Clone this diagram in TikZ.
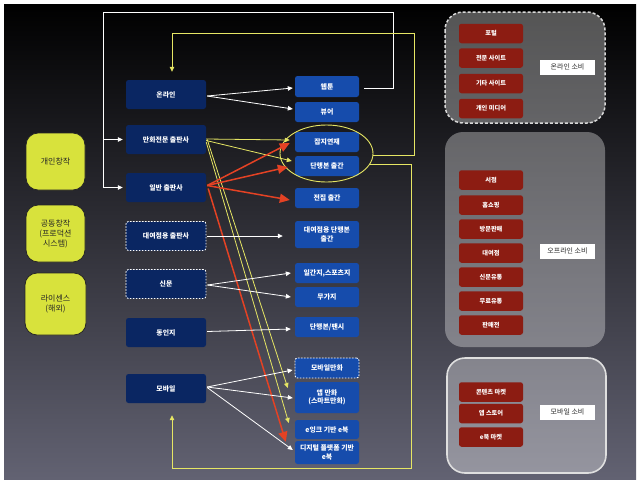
\documentclass[tikz,border=0pt]{standalone}
\usepackage{fontspec}
\newfontfamily\kr{Noto Sans CJK KR}
\usetikzlibrary{arrows.meta,calc,shapes.geometric}
\definecolor{navy}{RGB}{10,38,98}
\definecolor{bblue}{RGB}{22,76,172}
\definecolor{yfill}{RGB}{216,226,60}
\definecolor{yline}{RGB}{230,230,100}
\definecolor{rarrow}{RGB}{228,66,36}
\definecolor{rbox}{RGB}{140,28,18}
\definecolor{bgbot}{RGB}{98,98,114}
\definecolor{bgmid}{RGB}{30,30,60}
\begin{document}
\begin{tikzpicture}[x=1pt,y=-1pt,
  every node/.style={font=\kr\bfseries\fontsize{6.9}{8.3}\selectfont, text=white, align=center, inner sep=1pt},
  srcbox/.style={fill=navy, rounded corners=2.5pt, minimum width=80pt, minimum height=29pt},
  dashsrc/.style={srcbox, draw=white, line width=0.9pt, dash pattern=on 1.6pt off 1.4pt},
  outbox/.style={fill=bblue, rounded corners=2.5pt, minimum width=64pt, minimum height=20pt},
  dashout/.style={outbox, draw=white, line width=0.9pt, dash pattern=on 1.6pt off 1.4pt},
  creator/.style={fill=yfill, draw=black!85, line width=0.8pt, rounded corners=12pt, minimum width=59pt, minimum height=57pt, text=black!85, font=\kr\fontsize{8}{10}\selectfont},
  consbox/.style={fill=rbox, rounded corners=2.5pt, minimum width=64pt, minimum height=19.5pt, font=\kr\bfseries\fontsize{6.2}{7.5}\selectfont},
  grouplabel/.style={fill=white, text=black!85, minimum width=55pt, minimum height=15pt, font=\kr\fontsize{7}{9}\selectfont},
  groupbg/.style={fill=white, fill opacity=0.33, rounded corners=18pt},
  wa/.style={draw=white, line width=0.8pt, -{Triangle[length=5pt,width=4.5pt]}},
  ya/.style={draw=yline, line width=0.8pt, -{Triangle[length=5pt,width=4.5pt]}},
  ra/.style={draw=rarrow, line width=1.5pt, -{Triangle[length=10pt,width=9pt]}}]
\useasboundingbox (0,0) rectangle (640,483);
\fill[white] (0,0) rectangle (640,483);
\shade[top color=black, middle color=bgmid, bottom color=bgbot] (4,4) rectangle (636,479);

% consumption groups
\draw[groupbg, draw=white!70!gray, draw opacity=1, line width=1.5pt, dash pattern=on 3pt off 2pt] (445,12) rectangle (605,123);
\fill[groupbg] (445,132) rectangle (605,347);
\draw[groupbg, draw=white!75!gray, draw opacity=1, line width=1.6pt] (447,358) rectangle (606,473);

\node[consbox] (portal) at (491,33.5) {포털};
\node[consbox] (special) at (491,58) {전문 사이트};
\node[consbox] (othersite) at (491,83.5) {기타 사이트};
\node[consbox] (personal) at (491,108.5) {개인 미디어};
\node[grouplabel] (onlinecons) at (567.5,67) {온라인 소비};

\node[consbox] (bookstore) at (491,180) {서점};
\node[consbox] (homeshop) at (491,205) {홈쇼핑};
\node[consbox] (visit) at (491,229) {방문판매};
\node[consbox] (rentshop) at (491,253) {대여점};
\node[consbox] (newsdist) at (491,277) {신문유통};
\node[consbox] (freedist) at (491,301) {무료유통};
\node[consbox] (fair) at (491,325) {판매전};
\node[grouplabel] (offlinecons) at (567.5,251) {오프라인 소비};

\node[consbox] (contentmkt) at (491,392) {콘텐츠 마켓};
\node[consbox] (appstore) at (491,413.5) {앱 스토어};
\node[consbox] (ebookmkt) at (491,437) {e북 마켓};
\node[grouplabel] (mobilecons) at (567.5,412) {모바일 소비};

% creators
\node[creator] (indiv) at (55.5,161.5) {개인창작};
\node[creator] (joint) at (55.5,233.5) {공동창작\\(프로덕션\\시스템)};
\node[creator, minimum width=61pt, minimum height=62pt] (license) at (55.5,304) {라이센스\\(해외)};

% sources
\node[srcbox] (onl) at (166,94.5) {온라인};
\node[srcbox] (man) at (166,139.5) {만화전문 출판사};
\node[srcbox] (gen) at (166,187.5) {일반 출판사};
\node[dashsrc] (rent) at (166,236) {대여점용 출판사};
\node[dashsrc] (news) at (166,284) {신문};
\node[srcbox] (doujin) at (166,332.5) {동인지};
\node[srcbox] (mob) at (166,388.5) {모바일};

% outputs
\node[outbox, minimum height=21pt] (webtoon) at (327,86.5) {웹툰};
\node[outbox] (viewer) at (327,112) {뷰어};
\node[outbox] (mag) at (327,142) {잡지연재};
\node[outbox] (tank) at (327,166) {단행본 출간};
\node[outbox] (jeonjip) at (327,198) {전집 출간};
\node[outbox, minimum height=27pt] (rentbook) at (327,234.5) {대여점용 단행본\\출간};
\node[outbox] (daily) at (327,273) {일간지,스포츠지};
\node[outbox] (freepaper) at (327,297) {무가지};
\node[outbox] (fancy) at (327,327) {단행본/팬시};
\node[dashout] (mobcomic) at (327,368) {모바일만화};
\node[outbox, minimum height=31pt] (app) at (327,397.5) {앱 만화\\(스마트만화)};
\node[outbox, minimum height=19pt] (eink) at (327,429.5) {e잉크 기반 e북};
\node[outbox, minimum height=23pt] (digital) at (327,452.5) {디지털 플랫폼 기반\\e북};

\node[draw=yline, line width=0.9pt, ellipse, minimum width=93pt, minimum height=57pt, inner sep=0pt] (ell) at (326.5,153.5) {};

% white loop from webtoon back to publishers
\coordinate (wtop) at (393,12);
\coordinate (wleft) at (103,187.5);
\coordinate (wbranch) at (103,139.5);
\draw[wa] ($(webtoon.east)+(5,1.5)$) -| (wtop) -| (wleft) -- ($(gen.west)+(-3,0)$);
\draw[wa] (wbranch) -- ($(man.west)+(-3,0)$);

% yellow loops
\coordinate (ytop) at (414,33);
\coordinate (ybot) at (411,468);
\draw[ya] (ell.-2) -| (ytop) -| ($(onl.north)+(6,-8)$);
\draw[ya] (ell.-14) -| (ybot) -| ($(mob.south)+(6,12)$);

% online
\draw[wa] ($(onl.east)+(1,1.5)$) -- ($(webtoon.west)+(-2,1.5)$);
\draw[wa] ($(onl.east)+(1,1.5)$) -- ($(viewer.west)+(-2,-3)$);

% manhwa publishers (yellow)
\draw[ya] ($(man.east)+(0,-0.5)$) -- ($(mag.west)+(-5,-2)$);
\draw[ya] ($(man.east)+(0,1)$) -- ($(tank.west)+(-3,-5)$);
\draw[ya] ($(man.east)+(1,0)$) -- ($(app.west)+(-7,-9.5)$);
\draw[ya] ($(man.east)+(0,2.5)$) -- ($(eink.west)+(-6,-6.5)$);

% general publishers (red)
\draw[ra] ($(gen.east)+(1,-2)$) -- ($(mag.west)+(-5,1)$);
\draw[ra] ($(gen.east)+(1,-2)$) -- ($(tank.west)+(-7,1)$);
\draw[ra] ($(gen.east)+(1,-2)$) -- ($(jeonjip.west)+(-5,2)$);
\draw[ra] ($(gen.east)+(2,1)$) -- ($(digital.north west)+(-9,1)$);

% others
\draw[wa] ($(rent.east)+(1,0)$) -- ($(rentbook.west)+(-12,1.5)$);
\draw[wa] ($(news.east)+(1,1)$) -- ($(daily.west)+(-4,0)$);
\draw[wa] ($(news.east)+(1,1)$) -- ($(freepaper.west)+(-4,0)$);
\draw[wa] ($(doujin.east)+(1,-1)$) -- ($(fancy.west)+(-4,2)$);
\draw[wa] ($(mob.east)+(1,-1.5)$) -- ($(mobcomic.west)+(-2,2)$);
\draw[wa] ($(mob.east)+(1,-1.5)$) -- ($(app.west)+(-2,0.5)$);
\draw[wa] ($(mob.east)+(1,-1)$) -- ($(digital.west)+(-2,-2.5)$);
\end{tikzpicture}
\end{document}
